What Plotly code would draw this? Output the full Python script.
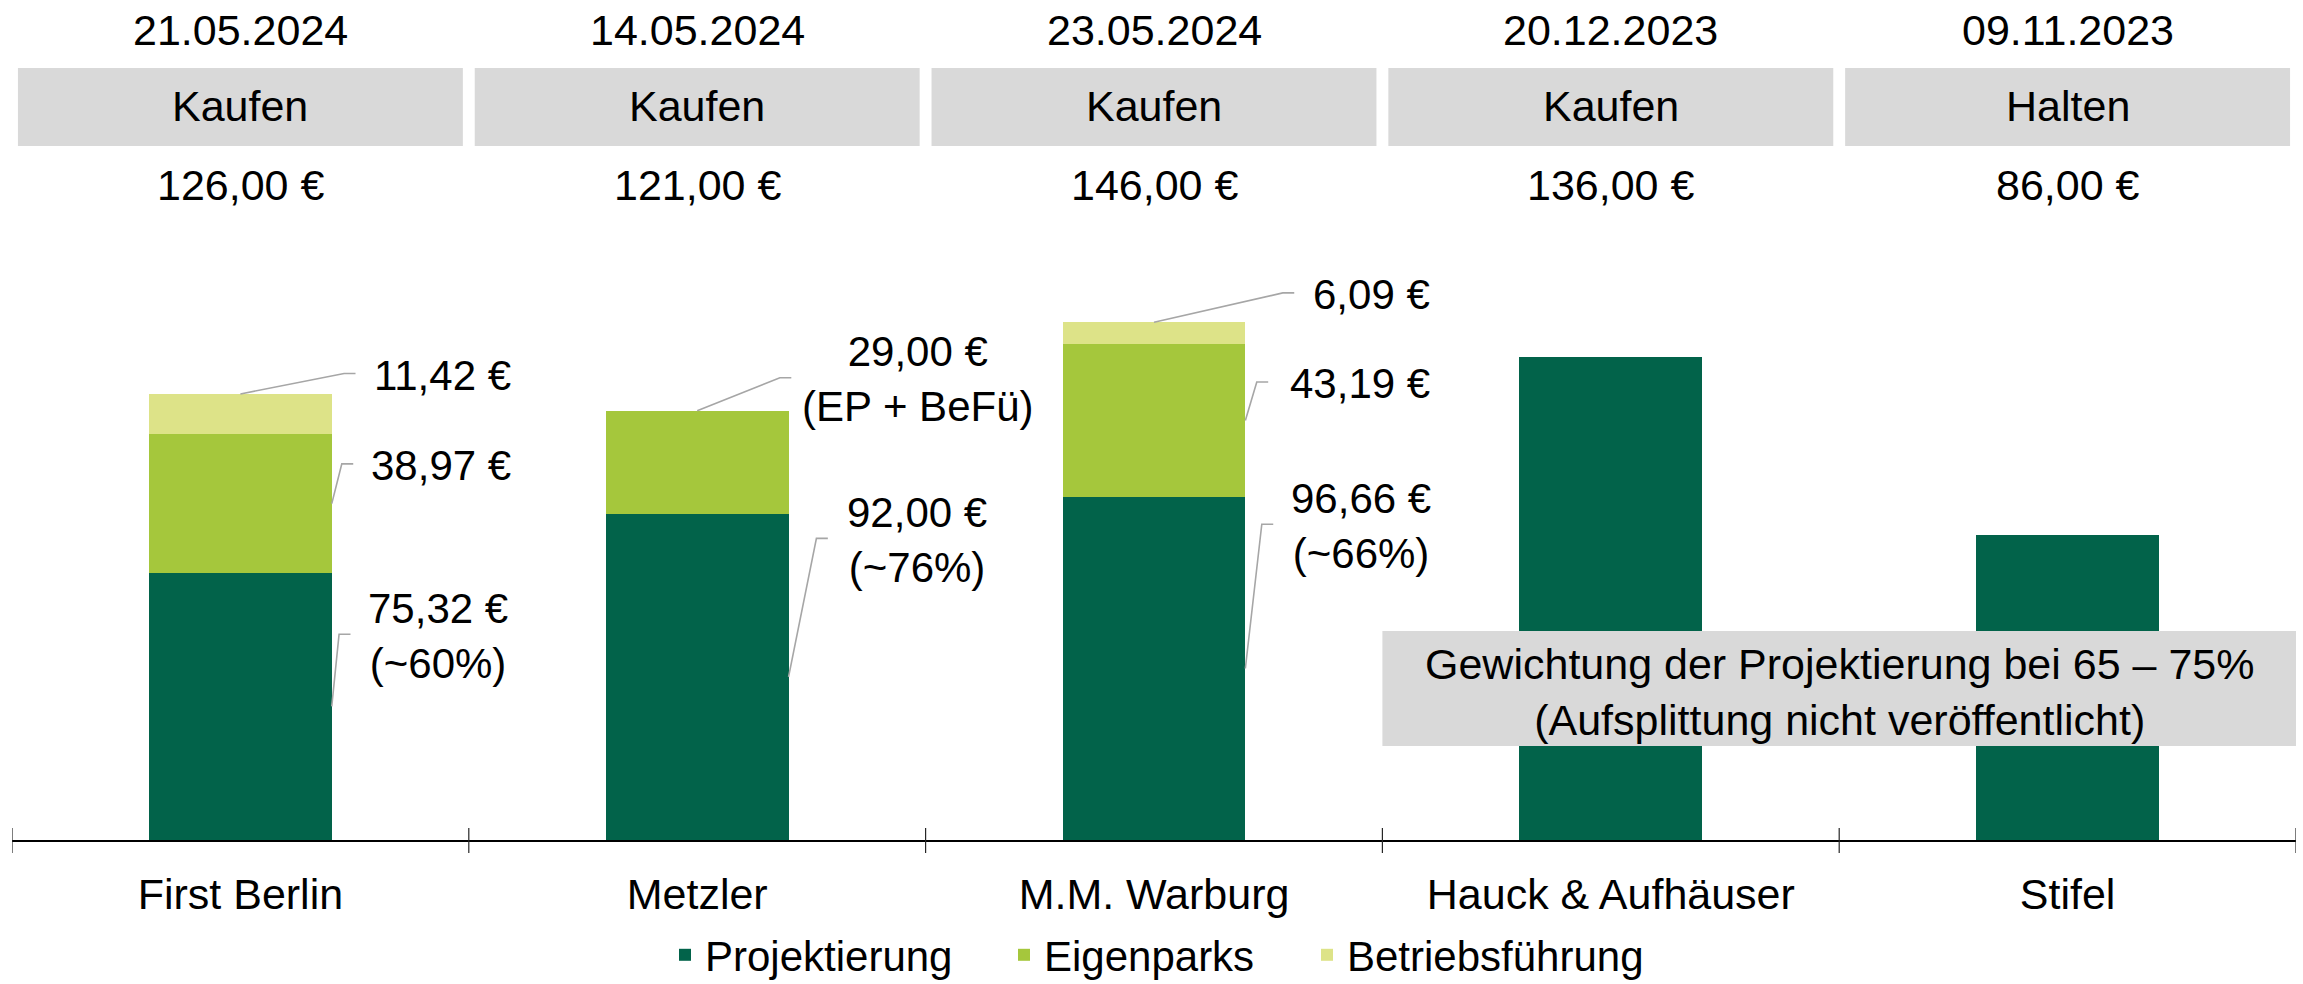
import plotly.graph_objects as go

# ---------------- data ----------------
categories = ["First Berlin", "Metzler", "M.M. Warburg", "Hauck & Aufhäuser", "Stifel"]
dates = ["21.05.2024", "14.05.2024", "23.05.2024", "20.12.2023", "09.11.2023"]
ratings = ["Kaufen", "Kaufen", "Kaufen", "Kaufen", "Halten"]
target_prices = ["126,00 €", "121,00 €", "146,00 €", "136,00 €", "86,00 €"]

projektierung = [75.32, 92.00, 96.66, 136.00, 86.00]
eigenparks = [38.97, 29.00, 43.19, None, None]
betriebsfuehrung = [11.42, None, 6.09, None, None]

series_names = ["Projektierung", "Eigenparks", "Betriebsführung"]
note_text = "Gewichtung der Projektierung bei 65 – 75%<br>(Aufsplittung nicht veröffentlicht)"

# value labels: (category index, segment the leader starts from, text)
value_labels = [
    (0, "top", "11,42 €"),
    (0, "Eigenparks", "38,97 €"),
    (0, "Projektierung", "75,32 €<br>(~60%)"),
    (1, "top", "29,00 €<br>(EP + BeFü)"),
    (1, "Projektierung", "92,00 €<br>(~76%)"),
    (2, "top", "6,09 €"),
    (2, "Eigenparks", "43,19 €"),
    (2, "Projektierung", "96,66 €<br>(~66%)"),
]

# ---------------- styling / placement ----------------
COLORS = {"Projektierung": "#02634A", "Eigenparks": "#A5C73C", "Betriebsführung": "#DDE388"}
LEGEND_W = {"Projektierung": 294, "Eigenparks": 258, "Betriebsführung": 310}
FONT = "Liberation Sans, Arial, sans-serif"
FS = 43
FS_VAL = 42
FS_LEG = 42
BAR_W = 0.4
LEADER_COLOR = "#A6A6A6"
GREY = "#D9D9D9"
Y_MAX = 236.75
PLOT_H = 840.0


def py2paper(py):
    return (PLOT_H - py) / PLOT_H


# placement of each value label (label y in data units, elbow x offset, text x offset, anchor)
label_place = [
    (131.5, 0.227, 0.597, "right"),
    (106.0, 0.222, 0.597, "right"),
    (58.0, 0.216, 0.433, "center"),
    (130.3, 0.181, 0.483, "center"),
    (85.0, 0.261, 0.481, "center"),
    (154.2, 0.282, 0.609, "right"),
    (129.1, 0.225, 0.609, "right"),
    (89.0, 0.236, 0.453, "center"),
]
SEG_LEN = 0.025
TEXT_DY = 0.5  # small downward nudge of label text (data units)

x = list(range(len(categories)))
series = {"Projektierung": projektierung, "Eigenparks": eigenparks, "Betriebsführung": betriebsfuehrung}

fig = go.Figure()
for name in series_names:
    fig.add_trace(go.Bar(
        x=x, y=series[name], name=name, width=BAR_W,
        marker=dict(color=COLORS[name], line=dict(width=0)),
        legendwidth=LEGEND_W[name],
        hoverinfo="skip",
    ))


def val(v):
    return v if v is not None else 0.0


totals = [sum(val(series[n][i]) for n in series_names) for i in x]

# leader lines
lx, ly = [], []
for (ci, seg, txt), (yl, ex, tx, anc) in zip(value_labels, label_place):
    if seg == "top":
        sx, sy = ci, totals[ci]
    else:
        base = 0.0
        for n in series_names:
            if n == seg:
                break
            base += val(series[n][ci])
        sx, sy = ci + BAR_W / 2, base + val(series[seg][ci]) / 2
    lx += [sx, ci + ex, ci + ex + SEG_LEN, None]
    ly += [sy, yl, yl, None]
    fig.add_annotation(x=ci + tx, y=yl - TEXT_DY, xref="x", yref="y", text=txt, showarrow=False,
                       xanchor=anc, yanchor="middle", align="center",
                       font=dict(family=FONT, size=FS_VAL, color="black"))

fig.add_trace(go.Scatter(x=lx, y=ly, mode="lines", line=dict(color=LEADER_COLOR, width=1.6),
                         showlegend=False, hoverinfo="skip"))

# header: dates, rating boxes, target prices
for i in x:
    fig.add_shape(type="rect", xref="x", yref="paper", x0=i - 0.487, x1=i + 0.487,
                  y0=py2paper(146), y1=py2paper(68), fillcolor=GREY, line=dict(width=0), layer="below")
    fig.add_annotation(x=i, y=py2paper(30), xref="x", yref="paper", text=dates[i], showarrow=False,
                       yanchor="middle", font=dict(family=FONT, size=FS, color="black"))
    fig.add_annotation(x=i, y=py2paper(105.5), xref="x", yref="paper", text=ratings[i], showarrow=False,
                       yanchor="middle", font=dict(family=FONT, size=FS, color="black"))
    fig.add_annotation(x=i, y=py2paper(185), xref="x", yref="paper", text=target_prices[i], showarrow=False,
                       yanchor="middle", font=dict(family=FONT, size=FS, color="black"))

# category separators crossing the axis
for b in range(len(categories) + 1):
    fig.add_shape(type="line", xref="x", yref="paper", x0=b - 0.5, x1=b - 0.5,
                  y0=py2paper(828), y1=py2paper(853), line=dict(color="#262626", width=1.2))

# note box
fig.add_shape(type="rect", xref="x", yref="y", x0=2.5, x1=4.5, y0=26.5, y1=58.9,
              fillcolor=GREY, line=dict(width=0), layer="above")
fig.add_annotation(x=3.5, y=41.8, xref="x", yref="y", text=note_text, showarrow=False,
                   xanchor="center", yanchor="middle", align="center",
                   font=dict(family=FONT, size=FS, color="black"))

fig.update_layout(
    width=2303, height=984,
    margin=dict(l=12, r=7, t=0, b=144, autoexpand=False),
    barmode="stack",
    plot_bgcolor="white", paper_bgcolor="white",
    font=dict(family=FONT, size=FS, color="black"),
    showlegend=True,
    legend=dict(orientation="h", x=(665 - 12) / 2284, xanchor="left", y=py2paper(955), yanchor="middle",
                font=dict(family=FONT, size=FS_LEG, color="black"), traceorder="normal",
                itemsizing="constant"),
    xaxis=dict(range=[-0.5, 4.5], tickvals=x, ticktext=categories, showline=True,
               linecolor="black", linewidth=2, ticks="", showgrid=False, zeroline=False,
               automargin=False, ticklabelstandoff=15,
               tickfont=dict(family=FONT, size=FS, color="black")),
    yaxis=dict(range=[0, Y_MAX], visible=False, showgrid=False, zeroline=False),
)

fig.write_html("out.html", config={"displayModeBar": False},
               post_script="document.body.style.margin='0';")
